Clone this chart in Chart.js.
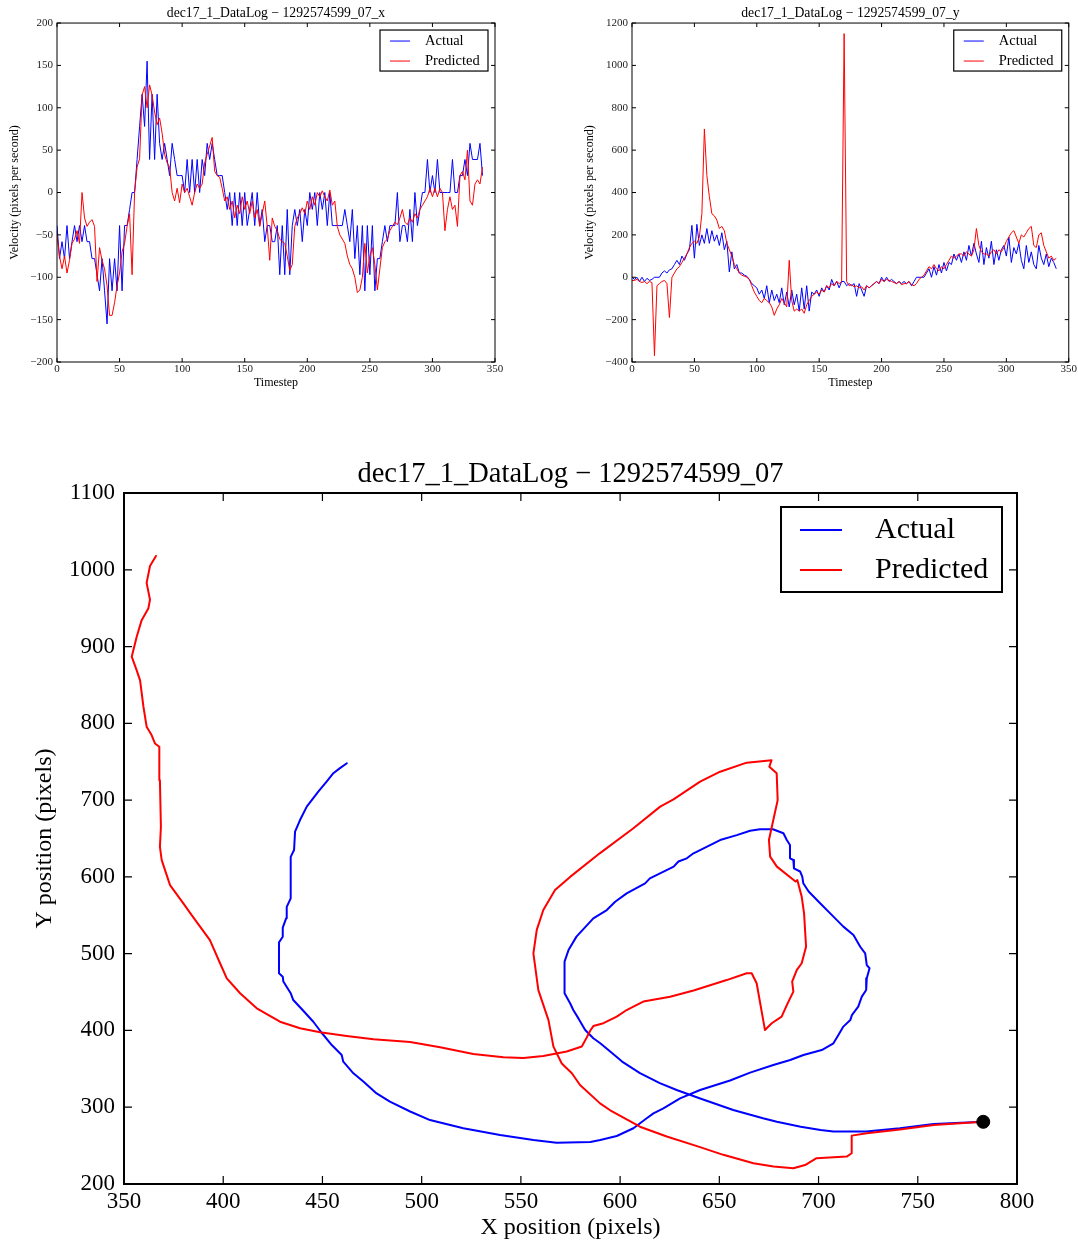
<!DOCTYPE html>
<html>
<head>
<meta charset="utf-8">
<script src="https://cdn.jsdelivr.net/npm/chart.js@4.4.1/dist/chart.umd.min.js"></script>
<style>
  html, body { margin: 0; padding: 0; background: #fff; }
  #page { position: relative; width: 1078px; height: 1245px; }
  canvas { position: absolute; }
</style>
</head>
<body>
<div id="page">
  <canvas id="velX" width="539" height="400" style="left:0;top:0"></canvas>
  <canvas id="velY" width="518" height="400" style="left:560px;top:0"></canvas>
  <canvas id="path" width="1078" height="845" style="left:0;top:400px"></canvas>
</div>
<script>
// timesteps read every 2 steps off the velocity plots
const timestep = Array.from({ length: 171 }, (_, i) => i * 2);

const vxActual = [
  -39, -78, -58, -78, -39, -78, -58, -39, -58, -39,
  -58, -39, -58, -58, -78, -78, -97, -116, -78, -116,
  -155, -78, -116, -78, -116, -39, -116, -39, -39, -20,
  0, 0, 39, 78, 116, 78, 155, 39, 116, 39,
  116, 58, 39, 58, 39, 20, 58, 39, 20, 20,
  20, 0, 39, 0, 39, 0, 39, 0, 39, 20,
  58, 39, 58, 39, 20, 20, 20, 0, -20, 0,
  -39, 0, -39, 0, -39, 0, -39, -20, 0, -39,
  0, -39, -20, -58, -39, -39, -58, -58, -39, -97,
  -39, -97, -20, -97, -39, -20, -39, -20, -58, -20,
  -39, 0, -20, 0, -39, 0, -20, 0, -39, 0,
  -39, -39, -39, -39, -39, -20, -39, -58, -20, -78,
  -39, -97, -39, -116, -39, -97, -39, -116, -78, -78,
  -58, -39, -58, -39, -39, -39, 0, -58, -39, -39,
  -58, -20, -58, 0, -39, -20, 0, 0, 39, 0,
  20, 0, 39, 0, 0, 0, 0, 0, 39, 0,
  0, 20, 20, 39, 20, 58, 39, 39, 39, 58,
  20
];
const vxPredicted = [
  -50, -75, -90, -75, -95, -80, -60, -55, -45, -60,
  0, -30, -40, -35, -32, -40, -105, -65, -80, -90,
  -110, -145, -145, -130, -110, -95, -70, -60, -40, -25,
  -97, 0, 30, 40, 115, 125, 100, 127, 115, 95,
  80, 88, 70, 45, 35, 30, 0, -10, 5, -12,
  10, 0, 5, -5, -15, 0, 10, 5, 10, 35,
  45, 55, 65, 25, 20, 18, 5, -10, -5, -20,
  -10, -30, -15, -25, -5, -20, -10, -25, -10, -30,
  -20, -40, -25, -10, -40, -80, -30, -40, -45, -55,
  -58, -60, -75, -92, -85, -40, -30, -25, -18, -25,
  -10, -20, -5, -15, 0, -5, 2, -5, -10, 3,
  -15, -10, -40, -50, -55, -60, -75, -85, -90, -100,
  -118, -115, -100, -60, -95, -75, -65, -85, -115, -90,
  -65, -58, -55, -45, -40, -35, -38, -30, -20, -35,
  -38, -30, -35, -25, -30, -20, -15, -10, -5, 5,
  -5, 5, -5, 5, 0, -45, -20, -5, -20, -15,
  -40, 20, 25, 15, 50, -10, -15, 10, 15, 10,
  30
];
const vyActual = [
  0, -10, 0, -20, 0, -20, -5, -15, -10, 0,
  0, 0, 20, 30, 20, 35, 40, 60, 80, 60,
  100, 80, 110, 130, 245, 90, 250, 150, 200, 160,
  230, 160, 220, 170, 200, 150, 210, 130, 170, 25,
  120, 40, 60, 20, 20, 10, 5, -10, -30, -40,
  -50, -80, -60, -100, -40, -120, -60, -110, -80, -120,
  -50, -130, -70, -140, -60, -130, -80, -160, -50, -150,
  -40, -160, -70, -80, -60, -90, -50, -70, -40, -60,
  -10, -40, -20, -50, -20, -20, -40, -30, -40, -30,
  -90, -30, -60, -90, -40, -50, -40, -30, -20, -30,
  0, -20, 0, -20, -10, -20, -30, -20, -30, -20,
  -30, -20, -40, -20, 0, 0, 0, 0, 20, 40,
  0, 50, 10, 60, 20, 70, 30, 70, 60, 110,
  80, 110, 70, 120, 80, 150, 100, 160, 110, 70,
  170, 60, 140, 90, 170, 60, 130, 80, 130, 150,
  100, 190, 70, 140, 110, 160, 80, 40, 150, 70,
  120, 60, 40, 150, 90, 60, 110, 50, 90, 70,
  40
];
const vyPredicted = [
  -15, -15, -10, -20, -25, -20, -30, -20, -25, -370,
  -40, -30, -20, -15, -30, -190, 0, 20, 40, 50,
  70, 90, 110, 140, 160, 170, 160, 190, 300, 700,
  480, 380, 300, 290, 270, 230, 240, 220, 160, 130,
  100, 60, 40, 20, 10, 5, 0, -10, -40, -70,
  -90, -110, -120, -100, -110, -120, -140, -180, -150, -130,
  -100, -120, -140, 80, -110, -160, -150, -160, -150, -170,
  -130, -110, -90, -80, -70, -80, -60, -70, -40, -50,
  -30, -40, -20, -30, -20, 1150, -20, -40, -35, -45,
  -40, -50, -45, -60, -40, -50, -40, -30, -20, -30,
  -10, -20, -10, -15, -20, -25, -30, -20, -35, -30,
  -30, -20, -35, -40, -30, -10, 0, 10, 30, 50,
  40, 60, 40, 30, 50, 40, 60, 80, 100, 90,
  100, 110, 110, 100, 120, 110, 100, 130, 230, 150,
  120, 110, 110, 100, 120, 130, 110, 130, 120, 140,
  170, 190, 210, 220, 190, 160, 200, 190, 210, 230,
  240, 150, 140, 200, 210, 150, 120, 90, 100, 80,
  90
];

// trajectory, in drawing order, starting at the marked point
const actualX = [
  783, 758, 741, 724, 707.5, 701, 691, 679, 672, 657,
  640, 628.5, 620, 610, 601, 595, 590, 586.5, 582.4, 579,
  576.4, 574.8, 572, 572, 574, 578, 586.5, 593.3, 597.5, 603.3,
  612.6, 615, 627, 629.4, 633.6, 637, 650.4, 658.8, 665.5, 670.5,
  677, 682.3, 684, 685.6, 685.6, 687.3, 687.6, 690.7, 691.8, 692.3,
  695, 700.8, 707.5, 712.5, 717.6, 721, 723.5, 724.3, 725.7, 724.3,
  724, 721.8, 720, 716.8, 716, 712.5, 710, 707.5, 701.6, 692.4,
  685.7, 677.2, 665.5, 655.4, 640.3, 630.2, 621.8, 616.8, 613.4, 606.7,
  598.3, 590, 585, 568, 556.3, 539.5, 521, 504.2, 494.2, 484,
  477.3, 470.6, 465.6, 460.5, 459.7, 454.7, 449.6, 445.4, 440, 435.3,
  434, 430.3, 430, 428.1, 428.1, 430, 430, 431.7, 432, 434,
  434, 435.7, 436.2, 438.7, 442.1, 447.9, 452.1, 455.5, 458.5, 462.3
];
const actualY = [
  281, 278, 272.6, 268.4, 268.4, 270.3, 274.6, 281, 285.6, 296.4,
  311.6, 322.4, 331.3, 344.4, 359.5, 372.5, 383.3, 389.8, 400.5, 415.7,
  426.6, 435.4, 448.5, 489.7, 504.7, 522.2, 546, 556.8, 567.6, 578.5,
  591.6, 598, 613.4, 620, 624.2, 630.7, 648, 654.4, 660, 662,
  662, 656.8, 648, 641.5, 624.2, 622, 611, 607, 600.4, 591.8,
  581, 565.7, 548.3, 535.2, 524.2, 509, 500.4, 485.2, 481, 468,
  452.6, 444, 431, 420, 413.5, 405, 394, 383.2, 374.5, 368,
  361.5, 355, 345, 334.8, 322.4, 311.6, 298.6, 292, 285.6, 272.6,
  262.5, 257.3, 254.7, 253.8, 257.3, 263.8, 272.7, 283.3, 294.4, 307.4,
  318, 333.5, 344.2, 359.3, 368, 381, 397, 411.3, 426.6, 439.6,
  448.5, 463.7, 470, 474.4, 514.7, 522, 534, 546, 561, 572,
  626, 635, 659, 674, 691.5, 711, 724, 735, 741, 748
];
const predX = [
  783, 758, 741, 724.3, 716.7, 716.7, 714.2, 699, 693.2, 687.3,
  677.3, 667.2, 652, 640.3, 623.5, 610, 595, 589.9, 579.8, 575.7,
  570.6, 566.4, 563.9, 558.8, 556.3, 558, 561.3, 567.2, 574.8, 589.9,
  606.7, 620.2, 626.9, 640.3, 650.4, 663.8, 676.3, 675.2, 678.9, 679.4,
  677.2, 675, 675.6, 679, 688.4, 689.3, 691.5, 692.7, 693.7, 691.5,
  689, 686.7, 687.3, 684, 681.4, 676.4, 673, 668.8, 666.3, 663.8,
  653.7, 637, 625.2, 611.7, 606.7, 603.3, 598.3, 591.6, 586.5, 585,
  583, 580.7, 573.1, 561.3, 551.3, 541.2, 526, 509.3, 494.2, 475.7,
  462.2, 448.8, 438.7, 428.6, 416.9, 408.5, 401.8, 398.4, 393.3, 384.1,
  379.9, 373.2, 369, 368.1, 368.6, 368.1, 367.8, 365.6, 363.9, 361.4,
  359.8, 358.1, 356.4, 353.9, 356.4, 358.9, 362.3, 363.1, 361.4, 363.1,
  366.1
];
const predY = [
  281, 276.7, 271, 266, 263, 240, 235.7, 233.6, 224.7, 220.4,
  222.7, 227, 238, 248, 261.8, 274.6, 296, 305, 329, 344.2,
  357, 379, 413.5, 452.6, 500.4, 531, 556.8, 582.8, 600, 631,
  663.3, 691.5, 701, 724, 737, 748.8, 752, 743.5, 735, 700,
  674, 648, 626.4, 613.4, 594, 595.8, 574.3, 552.5, 509, 487.5,
  478.6, 463.7, 450.6, 433, 418, 409.4, 400.5, 461.5, 474.5, 474.5,
  465.6, 452, 444, 437.6, 431, 426.6, 418, 409.4, 405.7, 400,
  390, 379, 372.5, 366.7, 364, 365, 369.3, 378, 384.9, 388.4,
  392.7, 397.6, 402.9, 411.4, 428.8, 448.4, 467.9, 487.5, 517.7, 550.3,
  565.5, 589.3, 621.9, 639.2, 665, 726, 769.4, 773.8, 784.7, 795.6,
  821.6, 856, 869, 886.8, 912.8, 934.4, 950, 961, 983, 1005,
  1018
];
const startX = [783];
const startY = [281];

const seriesLabels = ['Actual', 'Predicted'];
const BLUE = '#0000ff';
const RED = '#ff0000';
const SERIF = '"Liberation Serif", "Times New Roman", serif';

Chart.defaults.font.family = SERIF;
Chart.defaults.color = '#000';

const pts = (xs, ys) => xs.map((x, i) => ({ x: x, y: ys[i] }));
// plain numbers, no thousands separator, typographic minus
const plain = (v) => String(v).replace('-', '\u2212');

// box round the plot with matplotlib-style inward ticks
const framePlugin = {
  id: 'frame',
  afterDatasetsDraw(chart, args, o) {
    const { ctx, chartArea: a, scales: { x, y } } = chart;
    ctx.save();
    ctx.strokeStyle = '#000';
    ctx.lineWidth = o.tickWidth;
    ctx.beginPath();
    x.ticks.forEach((t) => {
      const px = x.getPixelForValue(t.value);
      ctx.moveTo(px, a.bottom);
      ctx.lineTo(px, a.bottom - o.tickLen);
      ctx.moveTo(px, a.top);
      ctx.lineTo(px, a.top + o.tickLen);
    });
    y.ticks.forEach((t) => {
      const py = y.getPixelForValue(t.value);
      ctx.moveTo(a.left, py);
      ctx.lineTo(a.left + o.tickLen, py);
      ctx.moveTo(a.right, py);
      ctx.lineTo(a.right - o.tickLen, py);
    });
    ctx.stroke();
    ctx.lineWidth = o.borderWidth;
    ctx.strokeRect(a.left, a.top, a.right - a.left, a.bottom - a.top);
    ctx.restore();
  }
};

// legend box drawn inside the upper right corner of the plot
const boxLegend = {
  id: 'boxLegend',
  afterDraw(chart, args, o) {
    const { ctx, chartArea: a } = chart;
    const items = chart.data.datasets.filter((d) => d.label);
    const left = a.right - o.right - o.width;
    const top = a.top + o.top;
    ctx.save();
    ctx.fillStyle = '#fff';
    ctx.fillRect(left, top, o.width, o.height);
    ctx.strokeStyle = '#000';
    ctx.lineWidth = o.borderWidth;
    ctx.strokeRect(left, top, o.width, o.height);
    ctx.font = o.fontSize + 'px ' + SERIF;
    ctx.textBaseline = 'middle';
    ctx.textAlign = 'left';
    items.forEach((d, i) => {
      const yy = top + o.firstRow + i * o.rowGap;
      ctx.strokeStyle = d.borderColor;
      ctx.lineWidth = o.sampleWidth;
      ctx.beginPath();
      ctx.moveTo(left + o.lineStart, yy);
      ctx.lineTo(left + o.lineStart + o.lineLen, yy);
      ctx.stroke();
      ctx.fillStyle = '#000';
      ctx.fillText(d.label, left + o.textX, yy);
    });
    ctx.restore();
  }
};

function velocityChart(id, actual, predicted, opts) {
  new Chart(document.getElementById(id), {
    type: 'scatter',
    data: {
      datasets: [
        { label: seriesLabels[0], data: pts(timestep, actual), borderColor: BLUE, order: 2 },
        { label: seriesLabels[1], data: pts(timestep, predicted), borderColor: RED, order: 1 }
      ]
    },
    options: {
      responsive: false,
      animation: false,
      events: [],
      showLine: true,
      elements: {
        point: { radius: 0 },
        line: { borderWidth: 1, tension: 0, borderJoinStyle: 'round' }
      },
      layout: { padding: { left: 0, top: 0, right: opts.padRight, bottom: 0 } },
      scales: {
        x: {
          type: 'linear', min: 0, max: 350,
          grid: { display: false, drawTicks: false },
          border: { display: false },
          ticks: { stepSize: 50, padding: 1, maxRotation: 0, font: { size: 11 }, color: '#222', callback: plain },
          title: { display: true, text: 'Timestep', font: { size: 12 }, padding: { top: 0, bottom: 10 } },
          afterFit(s) { s.height = 38; }
        },
        y: {
          type: 'linear', min: opts.yMin, max: opts.yMax,
          grid: { display: false, drawTicks: false },
          border: { display: false },
          ticks: { stepSize: opts.yStep, padding: 4, font: { size: 11 }, color: '#222', callback: plain },
          title: { display: true, text: 'Velocity (pixels per second)', font: { size: 12 }, padding: { top: opts.yTitlePad, bottom: 0 } },
          afterFit(s) { s.width = opts.yWidth; }
        }
      },
      plugins: {
        legend: { display: false },
        tooltip: { enabled: false },
        title: {
          display: true, text: opts.title, fullSize: false,
          font: { size: 13.7, weight: 'normal' }, padding: { top: 5.6, bottom: 1 }
        },
        frame: { tickLen: 4, tickWidth: 1, borderWidth: 1 },
        boxLegend: {
          right: 7, top: 7, width: 108, height: 41, borderWidth: 1.2,
          firstRow: 11, rowGap: 20, lineStart: 10, lineLen: 20, sampleWidth: 1,
          textX: 45, fontSize: 14.5
        }
      }
    },
    plugins: [framePlugin, boxLegend]
  });
}

velocityChart('velX', vxActual, vxPredicted, {
  title: 'dec17_1_DataLog \u2212 1292574599_07_x',
  yMin: -200, yMax: 200, yStep: 50, yWidth: 57, yTitlePad: 8, padRight: 44
});
velocityChart('velY', vyActual, vyPredicted, {
  title: 'dec17_1_DataLog \u2212 1292574599_07_y',
  yMin: -400, yMax: 1200, yStep: 200, yWidth: 72, yTitlePad: 23, padRight: 9
});

new Chart(document.getElementById('path'), {
  type: 'scatter',
  data: {
    datasets: [
      { label: seriesLabels[0], data: pts(actualX, actualY), borderColor: BLUE, showLine: true, pointRadius: 0, order: 2 },
      { label: seriesLabels[1], data: pts(predX, predY), borderColor: RED, showLine: true, pointRadius: 0, order: 1 },
      { data: pts(startX, startY), backgroundColor: '#000', borderColor: '#000', pointRadius: 6.5, showLine: false, order: 0 }
    ]
  },
  options: {
    responsive: false,
    animation: false,
    events: [],
    elements: { line: { borderWidth: 2, tension: 0, borderJoinStyle: 'round', borderCapStyle: 'round' } },
    layout: { padding: { left: 0, top: 0, right: 61, bottom: 0 } },
    scales: {
      x: {
        type: 'linear', min: 350, max: 800,
        grid: { display: false, drawTicks: false },
        border: { display: false },
        ticks: { stepSize: 50, padding: 4, maxRotation: 0, font: { size: 23 }, callback: plain },
        title: { display: true, text: 'X position (pixels)', font: { size: 24 }, padding: { top: 0, bottom: 2.6 } },
        afterFit(s) { s.height = 61; }
      },
      y: {
        type: 'linear', min: 200, max: 1100,
        grid: { display: false, drawTicks: false },
        border: { display: false },
        ticks: { stepSize: 100, padding: 9, font: { size: 23 }, callback: plain },
        title: { display: true, text: 'Y position (pixels)', font: { size: 24 }, padding: { top: 30.6, bottom: 0 } },
        afterFit(s) { s.width = 124; }
      }
    },
    plugins: {
      legend: { display: false },
      tooltip: { enabled: false },
      title: {
        display: true, text: 'dec17_1_DataLog \u2212 1292574599_07', fullSize: false,
        font: { size: 28.5, weight: 'normal' }, padding: { top: 57.9, bottom: 0.9 }
      },
      frame: { tickLen: 8, tickWidth: 1.2, borderWidth: 2 },
      boxLegend: {
        right: 15, top: 14, width: 221, height: 85, borderWidth: 2,
        firstRow: 23, rowGap: 40, lineStart: 19, lineLen: 42, sampleWidth: 2,
        textX: 94, fontSize: 30
      }
    }
  },
  plugins: [framePlugin, boxLegend]
});
</script>
</body>
</html>
